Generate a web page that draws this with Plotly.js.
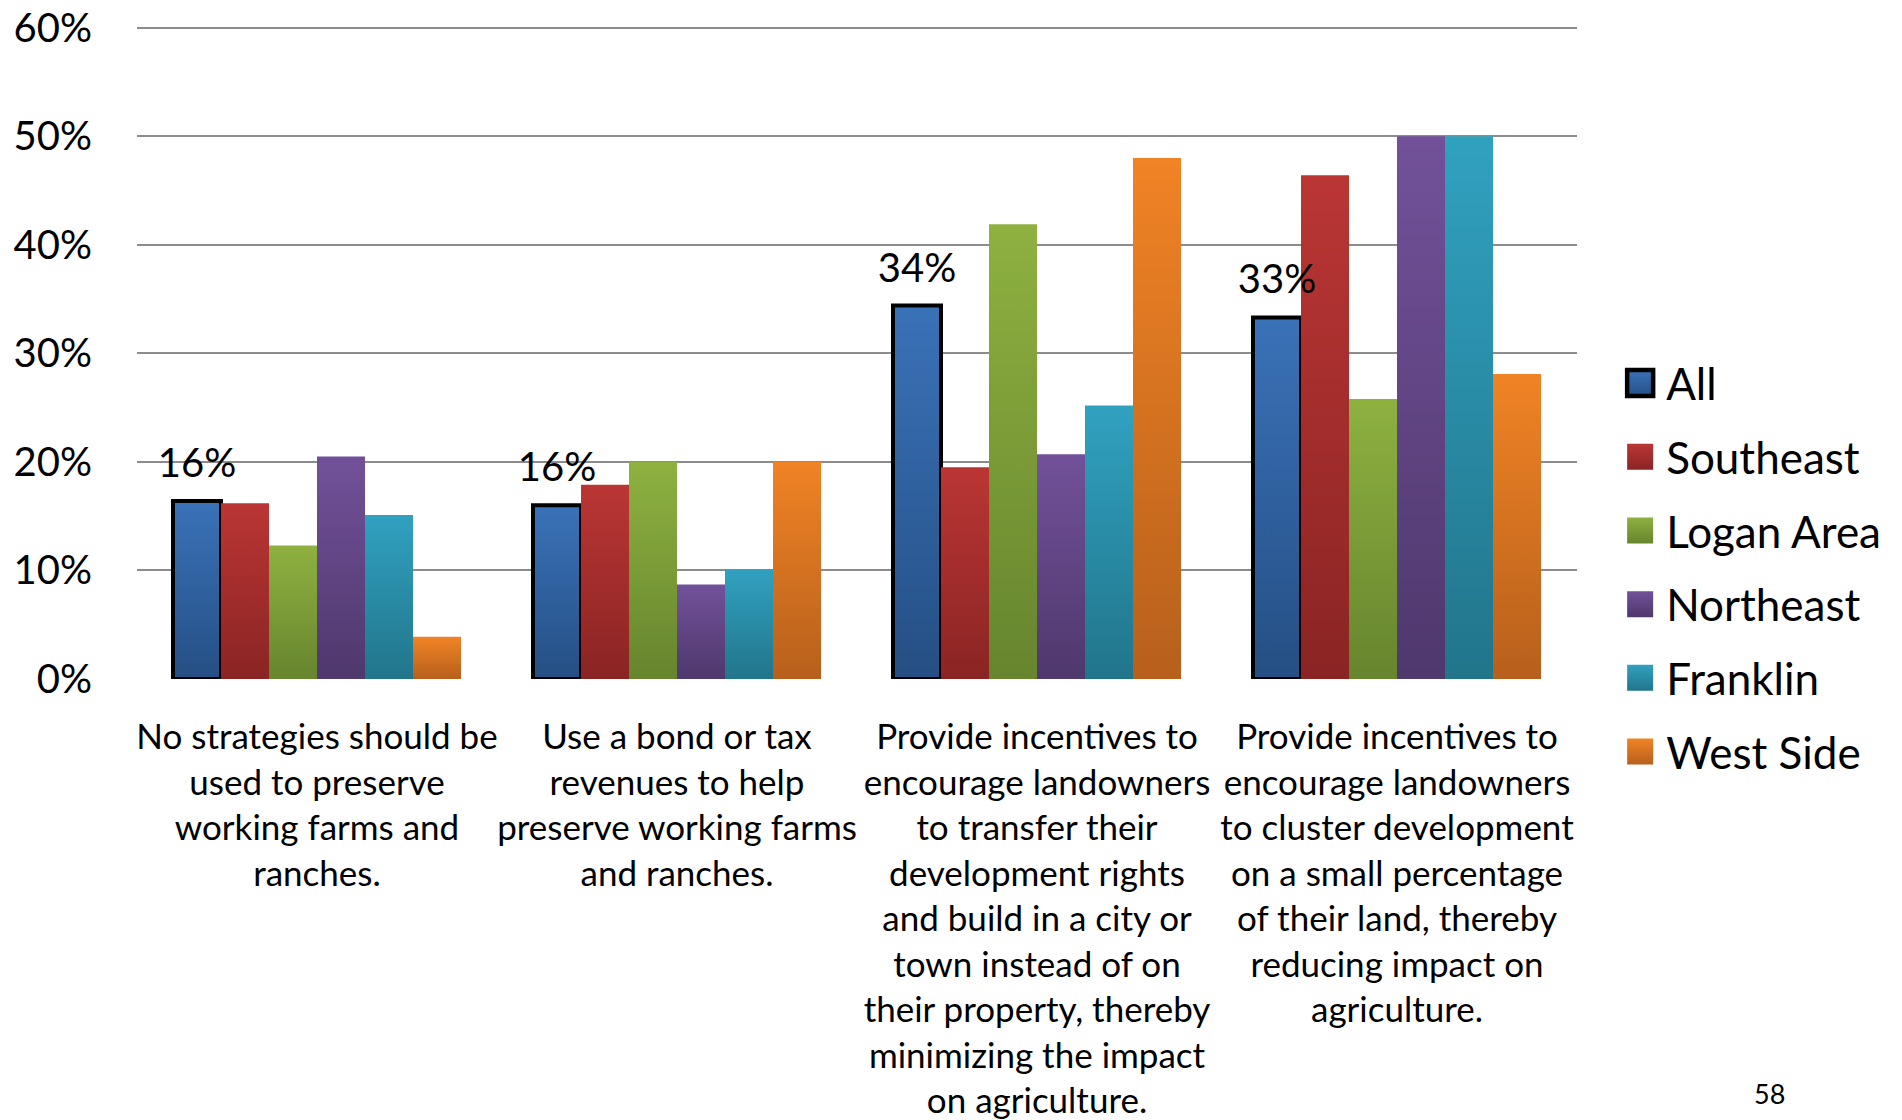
<!DOCTYPE html>
<html>
<head>
<meta charset="utf-8">
<script src="https://cdn.plot.ly/plotly-3.0.1.min.js"></script>
<style>
  html, body { margin: 0; padding: 0; background: #ffffff; }
  #chart { width: 1902px; height: 1120px; }
</style>
</head>
<body>
<div id="chart"></div>
<script>
// Survey strategies (x categories, line breaks kept as in the slide)
const categories = [
  'No strategies should be<br>used to preserve<br>working farms and<br>ranches.',
  'Use a bond or tax<br>revenues to help<br>preserve working farms<br>and ranches.',
  'Provide incentives to<br>encourage landowners<br>to transfer their<br>development rights<br>and build in a city or<br>town instead of on<br>their property, thereby<br>minimizing the impact<br>on agriculture.',
  'Provide incentives to<br>encourage landowners<br>to cluster development<br>on a small percentage<br>of their land, thereby<br>reducing impact on<br>agriculture.'
];

// Region names (legend order)
const seriesNames = ['All', 'Southeast', 'Logan Area', 'Northeast', 'Franklin', 'West Side'];

// Percent of respondents per region
const allValues       = [16.4, 16.0, 34.4, 33.3];
const southeastValues = [16.2, 17.9, 19.5, 46.4];
const loganValues     = [12.3, 20.0, 41.9, 25.8];
const northeastValues = [20.5, 8.7, 20.7, 50.0];
const franklinValues  = [15.1, 10.1, 25.2, 50.0];
const westSideValues  = [3.9, 20.0, 48.0, 28.1];

// Y axis ticks
const yTickValues = [0, 10, 20, 30, 40, 50, 60];
const yTickLabels = ['0%', '10%', '20%', '30%', '40%', '50%', '60%'];

const seriesValues = [allValues, southeastValues, loganValues, northeastValues, franklinValues, westSideValues];

// Vertical gradient colours for each region: [top, bottom]
const barShades = [
  ['#3A72B8', '#254F84'],
  ['#BA3634', '#8A2424'],
  ['#8EB140', '#66852E'],
  ['#72519A', '#4F386C'],
  ['#31A1C0', '#21758B'],
  ['#F08325', '#B7601C']
];

const FONT = 'Lato, "Open Sans", sans-serif';

const traces = seriesNames.map((name, i) => {
  const t = {
    type: 'bar',
    name: name,
    x: categories,
    y: seriesValues[i],
    legendgroup: 'g' + i,
    marker: {
      color: barShades[i][0],
      line: { width: i === 0 ? 4 : 0, color: '#000000' }
    },
    hoverinfo: 'skip'
  };
  if (i === 0) {
    t.texttemplate = '%{y:.0f}%';
    t.textposition = 'outside';
    t.constraintext = 'none';
    t.cliponaxis = false;
    t.textfont = { family: FONT, size: 40, color: '#000000' };
  }
  return t;
});

const layout = {
  width: 1902,
  height: 1120,
  paper_bgcolor: '#ffffff',
  plot_bgcolor: '#ffffff',
  margin: { l: 137, r: 325, t: 25.5, b: 441, pad: 0 },
  barmode: 'group',
  bargap: 0.2,
  bargroupgap: 0,
  showlegend: true,
  font: { family: FONT, color: '#000000' },
  xaxis: {
    type: 'category',
    tickangle: 0,
    showgrid: false,
    zeroline: false,
    showline: false,
    ticks: '',
    ticklabelstandoff: 34,
    tickfont: { family: FONT, size: 35, color: '#000000' },
    automargin: false
  },
  yaxis: {
    range: [0, 60.15],
    tickvals: yTickValues,
    ticktext: yTickLabels,
    showgrid: true,
    gridcolor: '#8C8C8C',
    gridwidth: 2,
    zeroline: false,
    showline: false,
    ticks: '',
    ticklabelstandoff: 44,
    tickfont: { family: FONT, size: 40, color: '#000000' },
    automargin: false
  },
  legend: {
    x: 1.0258,
    xanchor: 'left',
    y: 0.507,
    yanchor: 'top',
    itemwidth: 42,
    traceorder: 'grouped',
    tracegroupgap: 13.5,
    font: { family: FONT, size: 44, color: '#000000' },
    bgcolor: 'rgba(0,0,0,0)',
    borderwidth: 0
  },
  annotations: [{
    text: '58',
    xref: 'paper', yref: 'paper',
    x: 1.1339, y: -0.634,
    xanchor: 'center', yanchor: 'middle',
    showarrow: false,
    font: { family: FONT, size: 27, color: '#000000' }
  }]
};

// Replace flat bar fills with top-to-bottom gradients, lift the value labels
// a little (and keep them above neighbouring bars) and enlarge the legend swatches
function shadeBars(gd) {
  const svg = gd.querySelector('svg.main-svg');
  const ns = 'http://www.w3.org/2000/svg';
  const defs = document.createElementNS(ns, 'defs');
  svg.insertBefore(defs, svg.firstChild);
  barShades.forEach((pair, i) => {
    const g = document.createElementNS(ns, 'linearGradient');
    g.setAttribute('id', 'barShade' + i);
    g.setAttribute('x1', '0'); g.setAttribute('y1', '0');
    g.setAttribute('x2', '0'); g.setAttribute('y2', '1');
    const s1 = document.createElementNS(ns, 'stop');
    s1.setAttribute('offset', '0'); s1.setAttribute('stop-color', pair[0]);
    const s2 = document.createElementNS(ns, 'stop');
    s2.setAttribute('offset', '1'); s2.setAttribute('stop-color', pair[1]);
    g.appendChild(s1); g.appendChild(s2);
    defs.appendChild(g);
  });

  const barLayer = gd.querySelector('.barlayer');
  const labelGroup = document.createElementNS(ns, 'g');
  labelGroup.setAttribute('class', 'value-labels');

  gd.querySelectorAll('.barlayer .trace.bars').forEach((tr, i) => {
    tr.querySelectorAll('.point path').forEach(p => {
      p.style.fill = 'url(#barShade' + i + ')';
    });
    tr.querySelectorAll('.point text').forEach(txt => {
      const prev = txt.getAttribute('transform') || '';
      txt.setAttribute('transform', 'translate(0,-12) ' + prev);
      labelGroup.appendChild(txt);
    });
  });
  if (barLayer) barLayer.appendChild(labelGroup);

  gd.querySelectorAll('.legend .traces').forEach((item, i) => {
    item.querySelectorAll('.legendpoints path').forEach(p => {
      p.setAttribute('d', 'M13,13H-13V-13H13Z');
      p.style.fill = 'url(#barShade' + i + ')';
      if (i === 0) {
        p.style.stroke = '#000000';
        p.style.strokeWidth = '4.5px';
      } else {
        p.style.strokeWidth = '0px';
      }
    });
  });
}

Plotly.newPlot('chart', traces, layout, { staticPlot: true, displayModeBar: false })
  .then(shadeBars);
</script>
</body>
</html>
